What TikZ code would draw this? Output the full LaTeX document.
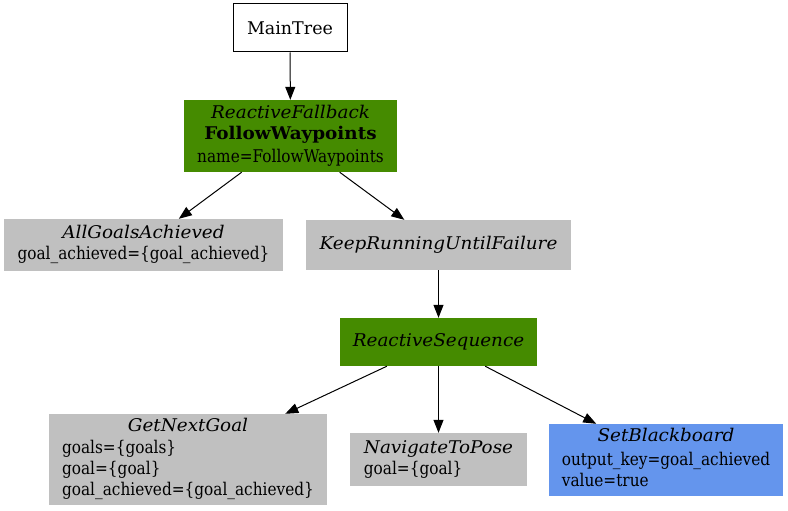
\documentclass[tikz,border=0pt]{standalone}
\usepackage{fontspec}
\setmainfont{DejaVu Serif}[UprightFeatures={FakeStretch=0.875},ItalicFeatures={FakeStretch=1.05},BoldFeatures={FakeStretch=1.05}]
\newfontfamily\titlefont{DejaVu Serif}
\usetikzlibrary{arrows.meta}
\definecolor{bgreen}{RGB}{69,139,0}
\definecolor{bgray}{RGB}{192,192,192}
\definecolor{bblue}{RGB}{100,149,237}
\begin{document}
\begin{tikzpicture}[x=1pt,y=-1pt,
  box/.style={rectangle, inner sep=0pt, font=\fontsize{17.5}{21}\selectfont, align=center},
  green/.style={box, fill=bgreen},
  grey/.style={box, fill=bgray},
  blue/.style={box, fill=bblue},
  edge/.style={-{Triangle[length=13pt,width=10pt]}, line width=1pt}]
\useasboundingbox (0,0) rectangle (788,511);
\node[box, draw=black, line width=1pt, fill=white, minimum width=114pt, minimum height=48pt] (main) at (290,28) {\titlefont MainTree};
\node[green, minimum width=213pt, minimum height=72pt] (rf) at (290.5,136)
  {\begin{tabular}{@{}c@{}}\itshape ReactiveFallback\\ \bfseries FollowWaypoints\\[2pt] name=FollowWaypoints\end{tabular}};
\node[grey, minimum width=279pt, minimum height=52pt] (ag) at (143.5,245)
  {\begin{tabular}{@{}c@{}}\itshape AllGoalsAchieved\\ goal\_achieved=\{goal\_achieved\}\end{tabular}};
\node[grey, minimum width=265pt, minimum height=50pt] (kr) at (438.5,245)
  {\itshape KeepRunningUntilFailure};
\node[green, minimum width=197pt, minimum height=48pt] (rs) at (438.5,342)
  {\itshape ReactiveSequence};
\node[grey, minimum width=278pt, minimum height=91pt] (gn) at (188,459.5)
  {\begin{tabular}{@{}l@{}}\multicolumn{1}{@{}c@{}}{\itshape GetNextGoal}\\[1pt] goals=\{goals\}\\ goal=\{goal\}\\ goal\_achieved=\{goal\_achieved\}\end{tabular}};
\node[grey, minimum width=177pt, minimum height=53pt] (nv) at (438.5,459.5)
  {\begin{tabular}{@{}l@{}}\multicolumn{1}{@{}c@{}}{\itshape NavigateToPose}\\ goal=\{goal\}\end{tabular}};
\node[blue, minimum width=234pt, minimum height=72pt] (sb) at (666,460)
  {\begin{tabular}{@{}l@{}}\multicolumn{1}{@{}c@{}}{\itshape SetBlackboard}\\[3pt] output\_key=goal\_achieved\\ value=true\end{tabular}};
\draw[edge] (main) -- (rf);
\draw[edge] (rf) -- (ag);
\draw[edge] (rf) -- (kr);
\draw[edge] (kr) -- (rs);
\draw[edge] (rs) -- (gn);
\draw[edge] (rs) -- (nv);
\draw[edge] (rs) -- (sb);
\end{tikzpicture}
\end{document}
